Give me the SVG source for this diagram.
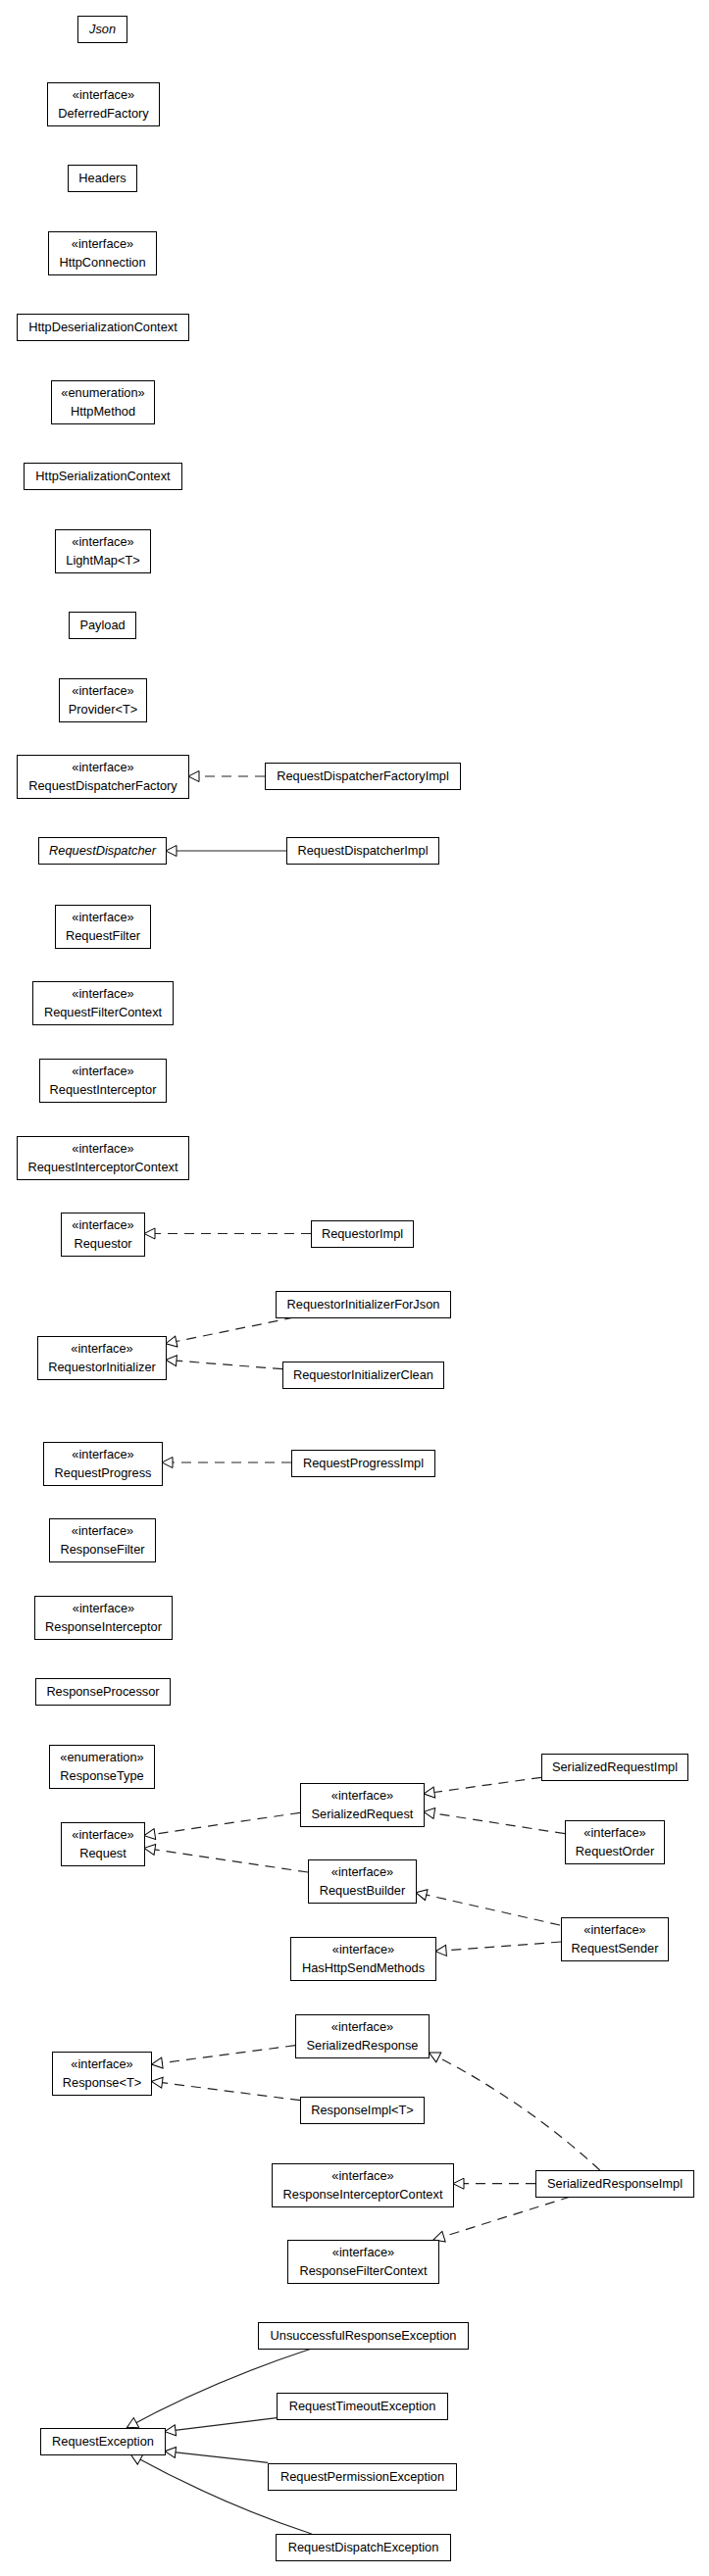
<svg xmlns="http://www.w3.org/2000/svg" width="723" height="2628" viewBox="0 0 723 2628">
<style>
.n rect{fill:#fff;stroke:#000;stroke-width:1}
text{font-family:"Liberation Sans",Arial,sans-serif;font-size:12.8px;fill:#000;text-anchor:middle}
.it{font-style:italic}
.e{fill:none;stroke:#222;stroke-width:1.2}
.d{stroke-dasharray:10,7}
</style>
<defs>
<marker id="tri" markerUnits="userSpaceOnUse" markerWidth="13" markerHeight="13" viewBox="-1 -1 13 13" refX="11" refY="5.5" orient="auto">
<path d="M0,0 L11,5.5 L0,11 Z" fill="#fff" stroke="#000" stroke-width="1" stroke-dasharray="none"/>
</marker>
</defs>
<rect width="723" height="2628" fill="#fff"/>
<g id="edges">
<path class="e d" d="M270,792 L192,792" marker-end="url(#tri)"/>
<path class="e" d="M292,868 L169,868" marker-end="url(#tri)"/>
<path class="e d" d="M317,1258.5 L147,1258.5" marker-end="url(#tri)"/>
<path class="e d" d="M300,1344 L169,1370.7" marker-end="url(#tri)"/>
<path class="e d" d="M288,1396.7 L169,1387.3" marker-end="url(#tri)"/>
<path class="e d" d="M297,1492 L165,1492" marker-end="url(#tri)"/>
<path class="e d" d="M552,1813.3 L432,1830" marker-end="url(#tri)"/>
<path class="e d" d="M576,1870.7 L432,1848.3" marker-end="url(#tri)"/>
<path class="e d" d="M306,1849.3 L147,1872.7" marker-end="url(#tri)"/>
<path class="e d" d="M314,1910 L147,1885.3" marker-end="url(#tri)"/>
<path class="e d" d="M571,1964 L424,1930.7" marker-end="url(#tri)"/>
<path class="e d" d="M572,1981 L444,1990.7" marker-end="url(#tri)"/>
<path class="e d" d="M301,2086.7 L154.5,2106" marker-end="url(#tri)"/>
<path class="e d" d="M306,2142.7 L154.5,2123.3" marker-end="url(#tri)"/>
<path class="e d" d="M611.7,2214 Q533.5,2142 437.5,2094" marker-end="url(#tri)"/>
<path class="e d" d="M546,2227.7 L462,2227.7" marker-end="url(#tri)"/>
<path class="e d" d="M581.7,2241 L442,2285" marker-end="url(#tri)"/>
<path class="e" d="M317.7,2396 Q213.6,2430.4 129.3,2476.7" marker-end="url(#tri)"/>
<path class="e" d="M282.3,2466.7 L168,2480.7" marker-end="url(#tri)"/>
<path class="e" d="M273,2512.3 L168,2500.7" marker-end="url(#tri)"/>
<path class="e" d="M317.7,2585 Q225,2554.4 133.3,2504" marker-end="url(#tri)"/>
</g>
<g id="Json" class="n"><rect x="79.5" y="16.5" width="50" height="27"/><text class="it" x="104.5" y="34">Json</text></g>
<g id="DeferredFactory" class="n"><rect x="48.5" y="84.5" width="114" height="44"/><text x="105.5" y="101">«interface»</text><text x="105.5" y="119.5">DeferredFactory</text></g>
<g id="Headers" class="n"><rect x="69.5" y="168.5" width="70" height="27"/><text x="104.5" y="186">Headers</text></g>
<g id="HttpConnection" class="n"><rect x="49.5" y="236.5" width="110" height="44"/><text x="104.5" y="253">«interface»</text><text x="104.5" y="271.5">HttpConnection</text></g>
<g id="HttpDeserializationContext" class="n"><rect x="17.5" y="320.5" width="175" height="27"/><text x="105" y="338">HttpDeserializationContext</text></g>
<g id="HttpMethod" class="n"><rect x="52.5" y="388.5" width="105" height="44"/><text x="105" y="405">«enumeration»</text><text x="105" y="423.5">HttpMethod</text></g>
<g id="HttpSerializationContext" class="n"><rect x="24.5" y="472.5" width="161" height="27"/><text x="105" y="490">HttpSerializationContext</text></g>
<g id="LightMap" class="n"><rect x="56.5" y="540.5" width="97" height="44"/><text x="105" y="557">«interface»</text><text x="105" y="575.5">LightMap&lt;T&gt;</text></g>
<g id="Payload" class="n"><rect x="70.5" y="624.5" width="68" height="27"/><text x="104.5" y="642">Payload</text></g>
<g id="Provider" class="n"><rect x="60.5" y="692.5" width="89" height="44"/><text x="105" y="709">«interface»</text><text x="105" y="727.5">Provider&lt;T&gt;</text></g>
<g id="RequestDispatcherFactory" class="n"><rect x="17.5" y="770.5" width="175" height="44"/><text x="105" y="787">«interface»</text><text x="105" y="805.5">RequestDispatcherFactory</text></g>
<g id="RequestDispatcherFactoryImpl" class="n"><rect x="270.5" y="778.5" width="199" height="27"/><text x="370" y="796">RequestDispatcherFactoryImpl</text></g>
<g id="RequestDispatcher" class="n"><rect x="39.5" y="854.5" width="130" height="27"/><text class="it" x="104.5" y="872">RequestDispatcher</text></g>
<g id="RequestDispatcherImpl" class="n"><rect x="292.5" y="854.5" width="155" height="27"/><text x="370" y="872">RequestDispatcherImpl</text></g>
<g id="RequestFilter" class="n"><rect x="56.5" y="923.5" width="97" height="44"/><text x="105" y="940">«interface»</text><text x="105" y="958.5">RequestFilter</text></g>
<g id="RequestFilterContext" class="n"><rect x="33.5" y="1001.5" width="143" height="44"/><text x="105" y="1018">«interface»</text><text x="105" y="1036.5">RequestFilterContext</text></g>
<g id="RequestInterceptor" class="n"><rect x="40.5" y="1080.5" width="129" height="44"/><text x="105" y="1097">«interface»</text><text x="105" y="1115.5">RequestInterceptor</text></g>
<g id="RequestInterceptorContext" class="n"><rect x="17.5" y="1159.5" width="175" height="44"/><text x="105" y="1176">«interface»</text><text x="105" y="1194.5">RequestInterceptorContext</text></g>
<g id="Requestor" class="n"><rect x="62.5" y="1237.5" width="85" height="44"/><text x="105" y="1254">«interface»</text><text x="105" y="1272.5">Requestor</text></g>
<g id="RequestorImpl" class="n"><rect x="317.5" y="1245.5" width="104" height="27"/><text x="369.5" y="1263">RequestorImpl</text></g>
<g id="RequestorInitializerForJson" class="n"><rect x="281.5" y="1317.5" width="178" height="27"/><text x="370.5" y="1335">RequestorInitializerForJson</text></g>
<g id="RequestorInitializer" class="n"><rect x="38.5" y="1363.5" width="131" height="44"/><text x="104" y="1380">«interface»</text><text x="104" y="1398.5">RequestorInitializer</text></g>
<g id="RequestorInitializerClean" class="n"><rect x="288.5" y="1389.5" width="164" height="27"/><text x="370.5" y="1407">RequestorInitializerClean</text></g>
<g id="RequestProgress" class="n"><rect x="44.5" y="1471.5" width="121" height="44"/><text x="105" y="1488">«interface»</text><text x="105" y="1506.5">RequestProgress</text></g>
<g id="RequestProgressImpl" class="n"><rect x="297.5" y="1479.5" width="146" height="27"/><text x="370.5" y="1497">RequestProgressImpl</text></g>
<g id="ResponseFilter" class="n"><rect x="50.5" y="1549.5" width="108" height="44"/><text x="104.5" y="1566">«interface»</text><text x="104.5" y="1584.5">ResponseFilter</text></g>
<g id="ResponseInterceptor" class="n"><rect x="35.5" y="1628.5" width="140" height="44"/><text x="105.5" y="1645">«interface»</text><text x="105.5" y="1663.5">ResponseInterceptor</text></g>
<g id="ResponseProcessor" class="n"><rect x="36.5" y="1712.5" width="137" height="27"/><text x="105" y="1730">ResponseProcessor</text></g>
<g id="ResponseType" class="n"><rect x="50.5" y="1780.5" width="107" height="44"/><text x="104" y="1797">«enumeration»</text><text x="104" y="1815.5">ResponseType</text></g>
<g id="SerializedRequestImpl" class="n"><rect x="552.5" y="1789.5" width="149" height="27"/><text x="627" y="1807">SerializedRequestImpl</text></g>
<g id="SerializedRequest" class="n"><rect x="306.5" y="1819.5" width="126" height="44"/><text x="369.5" y="1836">«interface»</text><text x="369.5" y="1854.5">SerializedRequest</text></g>
<g id="Request" class="n"><rect x="62.5" y="1859.5" width="85" height="44"/><text x="105" y="1876">«interface»</text><text x="105" y="1894.5">Request</text></g>
<g id="RequestOrder" class="n"><rect x="576.5" y="1857.5" width="101" height="44"/><text x="627" y="1874">«interface»</text><text x="627" y="1892.5">RequestOrder</text></g>
<g id="RequestBuilder" class="n"><rect x="314.5" y="1897.5" width="110" height="44"/><text x="369.5" y="1914">«interface»</text><text x="369.5" y="1932.5">RequestBuilder</text></g>
<g id="RequestSender" class="n"><rect x="572.5" y="1956.5" width="109" height="44"/><text x="627" y="1973">«interface»</text><text x="627" y="1991.5">RequestSender</text></g>
<g id="HasHttpSendMethods" class="n"><rect x="296.5" y="1976.5" width="148" height="44"/><text x="370.5" y="1993">«interface»</text><text x="370.5" y="2011.5">HasHttpSendMethods</text></g>
<g id="SerializedResponse" class="n"><rect x="301.5" y="2055.5" width="136" height="44"/><text x="369.5" y="2072">«interface»</text><text x="369.5" y="2090.5">SerializedResponse</text></g>
<g id="Response" class="n"><rect x="53.5" y="2093.5" width="101" height="44"/><text x="104" y="2110">«interface»</text><text x="104" y="2128.5">Response&lt;T&gt;</text></g>
<g id="ResponseImpl" class="n"><rect x="306.5" y="2139.5" width="126" height="27"/><text x="369.5" y="2157">ResponseImpl&lt;T&gt;</text></g>
<g id="ResponseInterceptorContext" class="n"><rect x="277.5" y="2207.5" width="185" height="44"/><text x="370" y="2224">«interface»</text><text x="370" y="2242.5">ResponseInterceptorContext</text></g>
<g id="SerializedResponseImpl" class="n"><rect x="546.5" y="2214.5" width="161" height="27"/><text x="627" y="2232">SerializedResponseImpl</text></g>
<g id="ResponseFilterContext" class="n"><rect x="293.5" y="2285.5" width="154" height="44"/><text x="370.5" y="2302">«interface»</text><text x="370.5" y="2320.5">ResponseFilterContext</text></g>
<g id="UnsuccessfulResponseException" class="n"><rect x="263.5" y="2369.5" width="214" height="27"/><text x="370.5" y="2387">UnsuccessfulResponseException</text></g>
<g id="RequestTimeoutException" class="n"><rect x="282.5" y="2441.5" width="174" height="27"/><text x="369.5" y="2459">RequestTimeoutException</text></g>
<g id="RequestException" class="n"><rect x="41.5" y="2477.5" width="127" height="27"/><text x="105" y="2495">RequestException</text></g>
<g id="RequestPermissionException" class="n"><rect x="273.5" y="2513.5" width="192" height="27"/><text x="369.5" y="2531">RequestPermissionException</text></g>
<g id="RequestDispatchException" class="n"><rect x="281.5" y="2585.5" width="178" height="27"/><text x="370.5" y="2603">RequestDispatchException</text></g>
</svg>
